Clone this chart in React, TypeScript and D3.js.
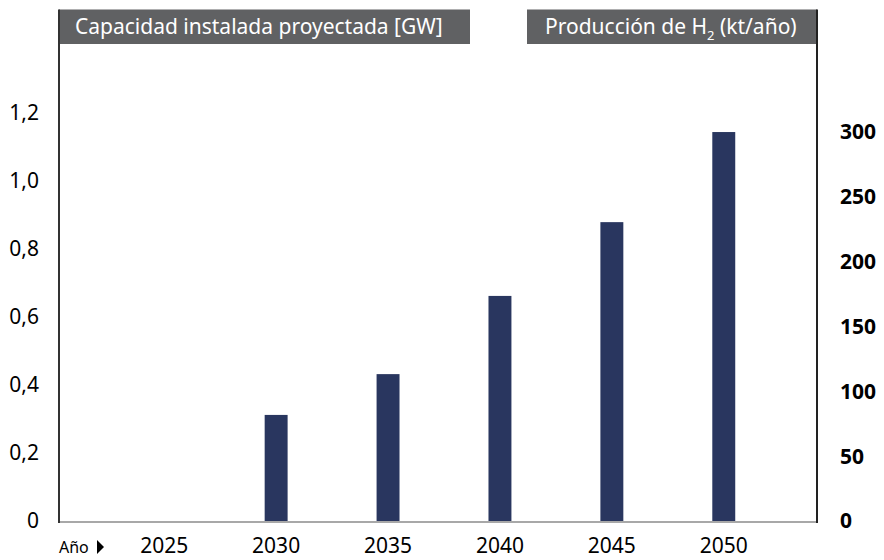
import React, { useEffect, useRef } from 'react';
import * as d3 from 'd3';

const years = ['2025', '2030', '2035', '2040', '2045', '2050'];
const capacityGW = [0, 0.312, 0.432, 0.662, 0.879, 1.144];
const leftTicks = [0, 0.2, 0.4, 0.6, 0.8, 1.0, 1.2];
const rightTicks = [0, 50, 100, 150, 200, 250, 300];

function App() {
    const ref = useRef<SVGSVGElement>(null);

    useEffect(() => {
        const svg = d3.select(ref.current);
        svg.selectAll('*').remove();

        const w = 884, h = 560;
        const left = 59, right = 817, base = 521;
        const font = '"Source Sans Pro", "Noto Sans", sans-serif';

        svg.attr('width', w).attr('height', h);

        const x = d3.scaleBand<string>()
            .domain(years)
            .range([108, 780])
            .paddingInner(0.795)
            .paddingOuter(0.4);

        const yLeft = d3.scaleLinear().domain([0, 1.2]).range([base, 113]);
        const yRight = d3.scaleLinear().domain([0, 300]).range([base, 132]);

        // header boxes
        svg.append('rect').attr('x', left).attr('y', 9.5).attr('width', 411).attr('height', 34.5).attr('fill', '#606163');
        svg.append('text').attr('x', 75).attr('y', 34).attr('fill', '#fff')
            .style('font-family', font).style('font-size', '21px')
            .text('Capacidad instalada proyectada [GW]');

        svg.append('rect').attr('x', 527).attr('y', 9.5).attr('width', right - 527).attr('height', 34.5).attr('fill', '#606163');
        const t2 = svg.append('text').attr('x', 545).attr('y', 34).attr('fill', '#fff')
            .style('font-family', font).style('font-size', '21px');
        t2.append('tspan').text('Producción de H');
        t2.append('tspan').attr('dy', 6).style('font-size', '13px').text('2');
        t2.append('tspan').attr('dy', -6).text(' (kt/año)');

        // bars
        svg.append('g').selectAll('rect')
            .data(capacityGW)
            .enter()
            .append('rect')
            .attr('x', (d, i) => x(years[i]) as number)
            .attr('y', d => yLeft(d))
            .attr('width', x.bandwidth())
            .attr('height', d => base - yLeft(d))
            .attr('fill', '#29365f');

        // frame
        svg.append('line').attr('x1', left).attr('x2', right).attr('y1', 522).attr('y2', 522)
            .attr('stroke', '#a8a8a8').attr('stroke-width', 2);
        svg.append('line').attr('x1', left).attr('x2', left).attr('y1', 9.5).attr('y2', 523)
            .attr('stroke', '#333').attr('stroke-width', 2);
        svg.append('line').attr('x1', right).attr('x2', right).attr('y1', 9.5).attr('y2', 523)
            .attr('stroke', '#222').attr('stroke-width', 2);

        // left ticks
        svg.append('g').selectAll('text')
            .data(leftTicks)
            .enter()
            .append('text')
            .attr('x', 39)
            .attr('y', d => yLeft(d))
            .attr('dy', '0.35em')
            .attr('text-anchor', 'end')
            .style('font-family', font).style('font-size', '21px')
            .text(d => d === 0 ? '0' : d3.format('.1f')(d).replace('.', ','));

        // right ticks
        svg.append('g').selectAll('text')
            .data(rightTicks)
            .enter()
            .append('text')
            .attr('x', 840)
            .attr('y', d => yRight(d))
            .attr('dy', '0.35em')
            .style('font-family', font).style('font-size', '21px').style('font-weight', 'bold')
            .text(d => String(d));

        // x labels
        svg.append('g').selectAll('text')
            .data(years)
            .enter()
            .append('text')
            .attr('x', d => (x(d) as number) + x.bandwidth() / 2)
            .attr('y', 553)
            .attr('text-anchor', 'middle')
            .style('font-family', font).style('font-size', '21px')
            .text(d => d);

        svg.append('text').attr('x', 59).attr('y', 553)
            .style('font-family', font).style('font-size', '16px')
            .text('Año');
        svg.append('path').attr('d', 'M97,540 L104,547 L97,554 Z').attr('fill', '#000');
    }, []);

    return (
        <svg ref={ref} style={{ display: 'block', position: 'absolute', left: 0, top: 0 }}></svg>
    );
}

export default App;
